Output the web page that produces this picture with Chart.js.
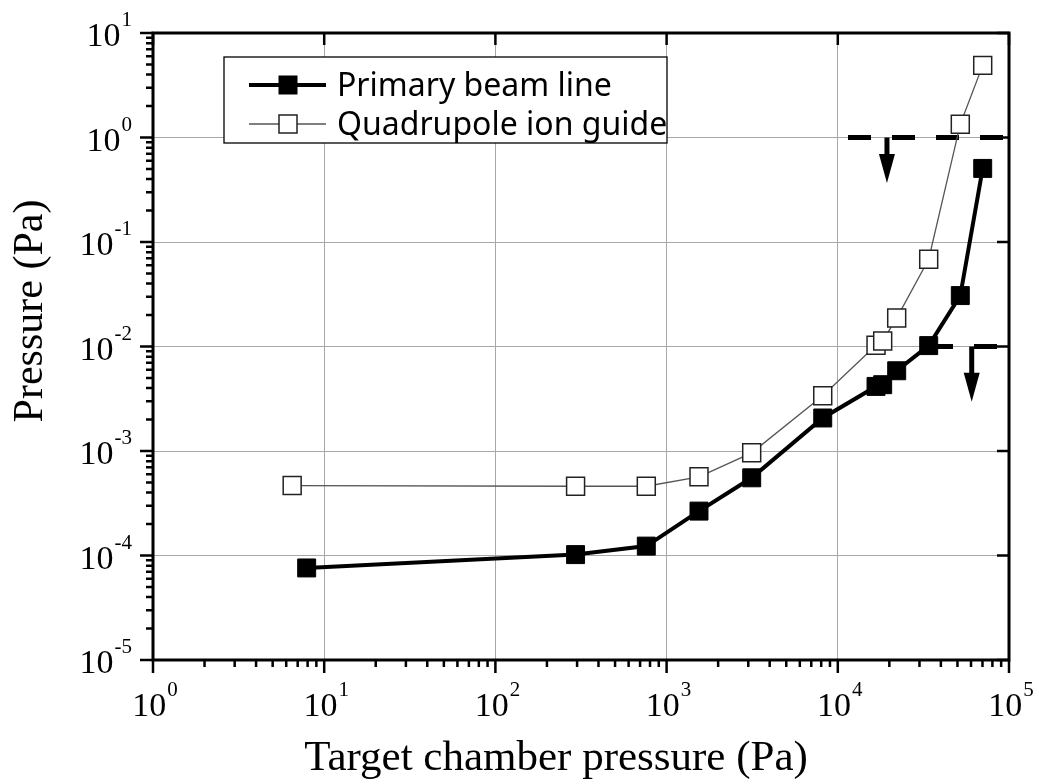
<!DOCTYPE html>
<html>
<head>
<meta charset="utf-8">
<script src="https://cdn.jsdelivr.net/npm/chart.js@4"></script>
<style>
  html, body { margin: 0; padding: 0; background: #fff; }
  #wrap { width: 1039px; height: 784px; position: relative; }
</style>
</head>
<body>
<div id="wrap"><canvas id="pressureChart"></canvas></div>
<script>
// target chamber pressure (Pa) for each measurement
const targetPrimary = [7.9, 294, 761, 1546, 3141, 8166, 16720, 18290, 22080, 33960, 51940, 70210];
const primaryBeam = [7.6e-5, 1.02e-4, 1.23e-4, 2.66e-4, 5.54e-4, 2.07e-3, 4.15e-3, 4.31e-3, 5.86e-3, 1.02e-2, 3.07e-2, 0.506];
const targetQuad = [6.5, 294, 761, 1546, 3141, 8166, 16720, 18290, 22080, 33960, 51940, 70210];
const quadGuide = [4.67e-4, 4.6e-4, 4.6e-4, 5.66e-4, 9.6e-4, 3.38e-3, 1.03e-2, 1.13e-2, 1.87e-2, 6.84e-2, 1.34, 4.9];

// dashed limit levels and the arrows hanging from them
const limitLevel = [1, 0.01];
const limitStart = [11470, 34560];
const arrowX = [19370, 60560];
const arrowTip = [0.366, 2.96e-3];

const xExponents = [0, 1, 2, 3, 4, 5];
const yExponents = [-5, -4, -3, -2, -1, 0, 1];
const seriesNames = ['Primary beam line', 'Quadrupole ion guide'];

const pts = (xs, ys) => xs.map((v, i) => ({ x: v, y: ys[i] }));

const limitSets = limitLevel.map((lv, i) => ({
  data: [{ x: limitStart[i], y: lv }, { x: 1e5, y: lv }],
  borderColor: '#000',
  borderWidth: 5,
  borderDash: [23, 21],
  pointRadius: 0,
  order: 5
}));

const decoration = {
  id: 'decoration',
  afterDatasetsDraw(chart) {
    const { ctx, scales: { x, y } } = chart;
    ctx.save();
    ctx.fillStyle = '#000';
    ctx.strokeStyle = '#000';
    arrowX.forEach((v, i) => {
      const px = x.getPixelForValue(v);
      const y0 = y.getPixelForValue(limitLevel[i]);
      const y1 = y.getPixelForValue(arrowTip[i]);
      ctx.lineWidth = 5;
      ctx.beginPath();
      ctx.moveTo(px, y0);
      ctx.lineTo(px, y1 - 26);
      ctx.stroke();
      ctx.beginPath();
      ctx.moveTo(px - 8, y1 - 29);
      ctx.lineTo(px + 8, y1 - 29);
      ctx.lineTo(px, y1);
      ctx.closePath();
      ctx.fill();
    });
    ctx.restore();
  },
  afterDraw(chart) {
    const { ctx, chartArea: a, scales: { x, y } } = chart;
    ctx.save();

    // frame
    ctx.strokeStyle = '#000';
    ctx.lineWidth = 3;
    ctx.strokeRect(a.left, a.top, a.right - a.left, a.bottom - a.top);

    // ticks
    ctx.lineWidth = 2.5;
    ctx.beginPath();
    xExponents.forEach(e => {
      for (let m = 1; m <= 9; m++) {
        const v = m * Math.pow(10, e);
        if (v > x.max * 1.0001) break;
        const px = x.getPixelForValue(v);
        const len = m === 1 ? 13 : 7;
        ctx.moveTo(px, a.bottom);
        ctx.lineTo(px, a.bottom + len);
        if (m === 1) {
          ctx.moveTo(px, a.top);
          ctx.lineTo(px, a.top + 12);
        }
      }
    });
    yExponents.forEach(e => {
      for (let m = 1; m <= 9; m++) {
        const v = m * Math.pow(10, e);
        if (v > y.max * 1.0001) break;
        const py = y.getPixelForValue(v);
        const len = m === 1 ? 13 : 7;
        ctx.moveTo(a.left - len, py);
        ctx.lineTo(a.left, py);
        if (m === 1) {
          ctx.moveTo(a.right - 12, py);
          ctx.lineTo(a.right, py);
        }
      }
    });
    ctx.stroke();

    // tick labels as 10 with a raised exponent
    ctx.fillStyle = '#000';
    ctx.textBaseline = 'alphabetic';
    const base = '34px "Liberation Serif", "Times New Roman", serif';
    const sup = '21px "Liberation Serif", "Times New Roman", serif';
    const measure = (e) => {
      ctx.font = base;
      const w1 = ctx.measureText('10').width;
      ctx.font = sup;
      const w2 = ctx.measureText(String(e)).width;
      return [w1, w2];
    };
    const drawPow = (e, left, baseY) => {
      const [w1] = measure(e);
      ctx.font = base;
      ctx.fillText('10', left, baseY);
      ctx.font = sup;
      ctx.fillText(String(e), left + w1 + 1, baseY - 20);
    };
    xExponents.forEach(e => {
      const px = x.getPixelForValue(Math.pow(10, e));
      const [w1, w2] = measure(e);
      drawPow(e, px - (w1 + w2 + 1) / 2 + 2, 716);
    });
    yExponents.forEach(e => {
      const py = y.getPixelForValue(Math.pow(10, e));
      const [w1, w2] = measure(e);
      drawPow(e, 132 - (w1 + w2 + 1), py + 13);
    });

    // axis titles
    ctx.font = '43px "Liberation Serif", "Times New Roman", serif';
    ctx.textAlign = 'center';
    ctx.fillText('Target chamber pressure (Pa)', 556, 770);
    ctx.save();
    ctx.translate(42, 311);
    ctx.rotate(-Math.PI / 2);
    ctx.font = '42px "Liberation Serif", "Times New Roman", serif';
    ctx.fillText('Pressure (Pa)', 0, 0);
    ctx.restore();

    // legend box
    ctx.textAlign = 'left';
    ctx.fillStyle = '#fff';
    ctx.fillRect(224, 57, 443, 86);
    ctx.strokeStyle = '#000';
    ctx.lineWidth = 1.3;
    ctx.strokeRect(224, 57, 443, 86);
    const rows = [85, 124];
    chart.data.datasets.slice(0, 2).forEach((ds, i) => {
      const ry = rows[i];
      ctx.strokeStyle = ds.borderColor;
      ctx.lineWidth = ds.borderWidth;
      ctx.beginPath();
      ctx.moveTo(249, ry);
      ctx.lineTo(326, ry);
      ctx.stroke();
      const s = 18;
      ctx.fillStyle = ds.pointBackgroundColor;
      ctx.fillRect(288 - s / 2, ry - s / 2, s, s);
      ctx.strokeStyle = ds.pointBorderColor;
      ctx.lineWidth = ds.pointBorderWidth;
      ctx.strokeRect(288 - s / 2, ry - s / 2, s, s);
      ctx.fillStyle = '#000';
      ctx.font = '32px "Noto Sans", "Liberation Sans", sans-serif';
      ctx.fillText(seriesNames[i], 337, ry + 11);
    });

    ctx.restore();
  }
};

const ctx = document.getElementById('pressureChart');

new Chart(ctx, {
  type: 'line',
  data: {
    datasets: [
      {
        label: seriesNames[0],
        data: pts(targetPrimary, primaryBeam),
        borderColor: '#000',
        borderWidth: 4,
        pointStyle: 'rect',
        pointRadius: 12.7,
        pointBackgroundColor: '#000',
        pointBorderColor: '#000',
        pointBorderWidth: 1,
        tension: 0,
        order: 1
      },
      {
        label: seriesNames[1],
        data: pts(targetQuad, quadGuide),
        borderColor: '#555',
        borderWidth: 1.3,
        pointStyle: 'rect',
        pointRadius: 12.7,
        pointBackgroundColor: '#fff',
        pointBorderColor: '#222',
        pointBorderWidth: 1.5,
        tension: 0,
        order: 0
      },
      ...limitSets
    ]
  },
  options: {
    responsive: true,
    maintainAspectRatio: false,
    animation: false,
    layout: { padding: { left: 153, right: 30, top: 33, bottom: 124 } },
    plugins: {
      legend: { display: false },
      tooltip: { enabled: false }
    },
    scales: {
      x: {
        type: 'logarithmic',
        min: 1,
        max: 1e5,
        afterBuildTicks: s => { s.ticks = xExponents.map(e => ({ value: Math.pow(10, e) })); },
        ticks: { display: false },
        border: { display: false },
        grid: { drawTicks: false, color: '#a8a8a8', lineWidth: 1 }
      },
      y: {
        type: 'logarithmic',
        min: 1e-5,
        max: 10,
        afterBuildTicks: s => { s.ticks = yExponents.map(e => ({ value: Math.pow(10, e) })); },
        ticks: { display: false },
        border: { display: false },
        grid: { drawTicks: false, color: '#a8a8a8', lineWidth: 1 }
      }
    }
  },
  plugins: [decoration]
});
</script>
</body>
</html>
